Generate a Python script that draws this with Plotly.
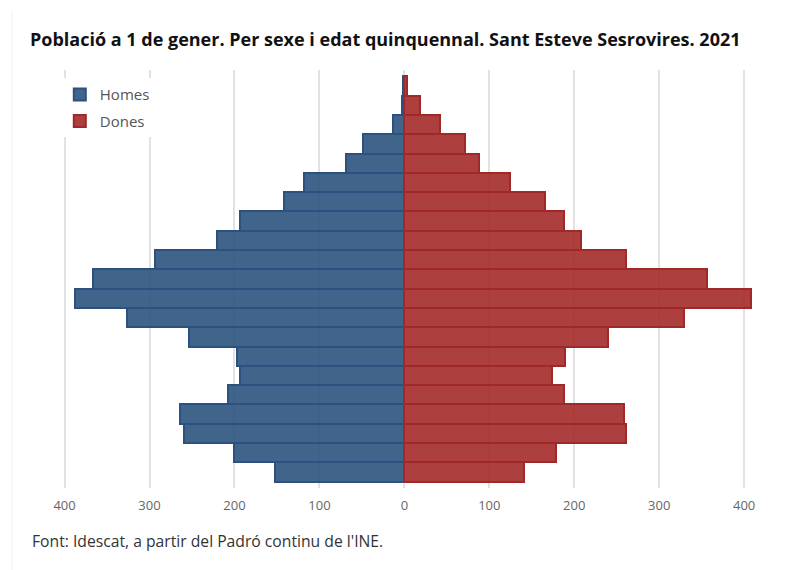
import plotly.graph_objects as go

ages = ["0-4", "5-9", "10-14", "15-19", "20-24", "25-29", "30-34", "35-39",
        "40-44", "45-49", "50-54", "55-59", "60-64", "65-69", "70-74", "75-79",
        "80-84", "85-89", "90-94", "95-99", "100 i més"]

# values listed from oldest (top) to youngest (bottom), then reversed
homes_top_down = [2, 3, 13, 49, 69, 118, 142, 194, 220, 294, 366, 388, 326,
                  254, 197, 194, 208, 264, 259, 200, 152]
dones_top_down = [3, 18, 42, 71, 88, 124, 166, 188, 208, 261, 356, 408, 329,
                  240, 189, 174, 188, 259, 261, 179, 141]

homes = homes_top_down[::-1]
dones = dones_top_down[::-1]

tick_vals = [-400, -300, -200, -100, 0, 100, 200, 300, 400]
tick_text = ["400", "300", "200", "100", "0", "100", "200", "300", "400"]

fig = go.Figure()
fig.add_trace(go.Bar(
    y=ages, x=[-v for v in homes], orientation="h", name="Homes",
    legendgroup="h",
    marker=dict(color="rgba(44,83,125,0.9)", line=dict(color="#2c5080", width=2)),
    customdata=homes, hovertemplate="%{y}: %{customdata}<extra>Homes</extra>",
))
fig.add_trace(go.Bar(
    y=ages, x=dones, orientation="h", name="Dones",
    legendgroup="d",
    marker=dict(color="rgba(164,42,42,0.9)", line=dict(color="#a02828", width=2)),
    hovertemplate="%{y}: %{x}<extra>Dones</extra>",
))

fig.update_layout(
    width=800, height=570,
    barmode="overlay", bargap=0,
    paper_bgcolor="white", plot_bgcolor="white",
    margin=dict(l=30, r=25, t=70, b=82),
    font=dict(family="Open Sans", color="#333"),
    title=dict(
        text="<b>Població a 1 de gener. Per sexe i edat quinquennal. Sant Esteve Sesrovires. 2021</b>",
        x=30 / 800, xanchor="left", y=1 - 40 / 570, yanchor="middle",
        font=dict(family="Open Sans", size=18, color="#111"),
    ),
    xaxis=dict(
        range=[-440.7, 436.3], tickvals=tick_vals, ticktext=tick_text,
        showgrid=True, gridcolor="#e2e2e2", gridwidth=2, zeroline=False,
        ticks="", ticklabelstandoff=8,
        tickfont=dict(family="Open Sans", size=13, color="#666"),
        showline=False, fixedrange=True,
    ),
    yaxis=dict(
        range=[-0.835, 20.835], showticklabels=False, showgrid=False,
        zeroline=False, ticks="", fixedrange=True,
    ),
    legend=dict(
        x=0.04, y=0.98, xanchor="left", yanchor="top",
        bgcolor="white", borderwidth=0,
        font=dict(family="Open Sans", size=15, color="#555"),
        traceorder="grouped", tracegroupgap=4,
    ),
    annotations=[dict(
        text="Font: Idescat, a partir del Padró continu de l'INE.",
        xref="paper", yref="paper", x=0 / 745, y=-(541 - 488) / 418,
        xanchor="left", yanchor="middle", showarrow=False,
        font=dict(family="Open Sans", size=15.7, color="#333"),
    )],
    shapes=[dict(
        type="line", xref="paper", yref="paper",
        x0=-18 / 745, x1=-18 / 745, y0=-(570 - 488) / 418, y1=(488 - 12) / 418,
        line=dict(color="#f0f0f0", width=1),
    )],
)

fig.write_html("out.html")
